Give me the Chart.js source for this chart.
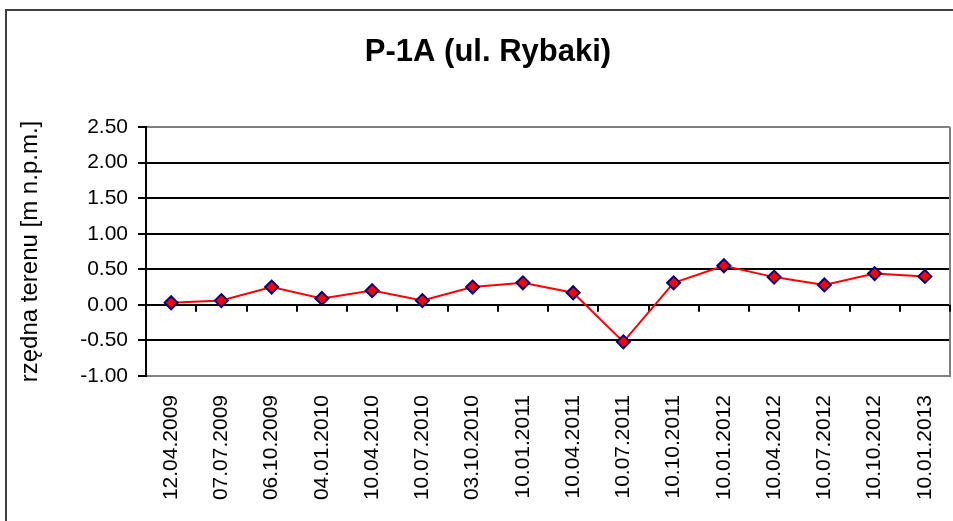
<!DOCTYPE html>
<html>
<head>
<meta charset="utf-8">
<script src="https://cdn.jsdelivr.net/npm/chart.js@4/dist/chart.umd.min.js"></script>
<style>
    html, body { margin: 0; padding: 0; background: #fff; }
    #wrap { width: 953px; height: 521px; }
</style>
</head>
<body>
<div id="wrap"><canvas id="chart" width="953" height="521"></canvas></div>
<script>
var chartTitle = 'P-1A (ul. Rybaki)';
var axisTitle = 'rzędna terenu [m n.p.m.]';

var dates = ['12.04.2009', '07.07.2009', '06.10.2009', '04.01.2010', '10.04.2010', '10.07.2010',
    '03.10.2010', '10.01.2011', '10.04.2011', '10.07.2011', '10.10.2011', '10.01.2012',
    '10.04.2012', '10.07.2012', '10.10.2012', '10.01.2013'];
var levels = [0.03, 0.06, 0.25, 0.09, 0.20, 0.06, 0.25, 0.31, 0.17, -0.52, 0.31, 0.55, 0.39, 0.28, 0.44, 0.40];

var yMin = -1.0;
var yMax = 2.5;
var yStep = 0.5;

var font = "'Liberation Sans', Arial, sans-serif";

// frame, title, right border and the small ticks on the zero line
var framePlugin = {
    id: 'frame',
    beforeDatasetsDraw: function (chart) {
        var ctx = chart.ctx;
        var area = chart.chartArea;
        var x = chart.scales.x;
        var y = chart.scales.y;
        var y0 = y.getPixelForValue(0);
        var step = x.width / dates.length;

        ctx.save();
        ctx.strokeStyle = '#808080';
        ctx.lineWidth = 2;
        ctx.beginPath();
        ctx.moveTo(area.right, area.top);
        ctx.lineTo(area.right, area.bottom);
        ctx.stroke();

        ctx.strokeStyle = '#000';
        ctx.lineWidth = 2;
        ctx.beginPath();
        for (var i = 1; i <= dates.length; i++) {
            var px = Math.round(x.left + i * step);
            ctx.moveTo(px, y0);
            ctx.lineTo(px, y0 + 7);
        }
        ctx.stroke();
        ctx.restore();
    },
    afterDraw: function (chart) {
        var ctx = chart.ctx;
        ctx.save();
        ctx.strokeStyle = '#404040';
        ctx.lineWidth = 2;
        ctx.beginPath();
        ctx.moveTo(6, chart.height);
        ctx.lineTo(6, 10);
        ctx.lineTo(chart.width, 10);
        ctx.stroke();

        ctx.fillStyle = '#000';
        ctx.font = 'bold 31px ' + font;
        ctx.textAlign = 'center';
        ctx.textBaseline = 'alphabetic';
        ctx.fillText(chartTitle, 488, 61);
        ctx.restore();
    }
};

new Chart(document.getElementById('chart'), {
    type: 'line',
    data: {
        labels: dates,
        datasets: [{
            data: levels,
            borderColor: '#ff0000',
            borderWidth: 2,
            tension: 0,
            pointStyle: 'rectRot',
            pointRadius: 6.5,
            pointBorderWidth: 2,
            pointBackgroundColor: '#ff0000',
            pointBorderColor: '#000080'
        }]
    },
    options: {
        responsive: false,
        animation: false,
        devicePixelRatio: 1,
        layout: {
            autoPadding: false,
            padding: { left: 0, top: 127, right: 3, bottom: 0 }
        },
        plugins: {
            legend: { display: false },
            title: { display: false },
            tooltip: { enabled: false }
        },
        scales: {
            x: {
                type: 'category',
                offset: true,
                grid: { display: false },
                border: { display: true, color: '#808080', width: 2 },
                ticks: {
                    autoSkip: false,
                    maxRotation: 90,
                    minRotation: 90,
                    padding: 11,
                    color: '#000',
                    font: { family: font, size: 21 }
                },
                afterFit: function (scale) {
                    scale.height = 145;
                    scale.paddingLeft = 0;
                    scale.paddingRight = 0;
                }
            },
            y: {
                min: yMin,
                max: yMax,
                grid: {
                    color: function (c) {
                        var v = c.tick ? c.tick.value : 0;
                        return (v === yMin || v === yMax) ? '#808080' : '#000';
                    },
                    lineWidth: 2,
                    tickColor: '#000',
                    tickLength: 8
                },
                border: { display: true, color: '#000', width: 2 },
                ticks: {
                    stepSize: yStep,
                    padding: 10,
                    color: '#000',
                    font: { family: font, size: 21 },
                    callback: function (value) {
                        return Number(value).toFixed(2);
                    }
                },
                title: {
                    display: true,
                    text: axisTitle,
                    color: '#000',
                    padding: { top: 16, bottom: 0 },
                    font: { family: font, size: 24 }
                },
                afterFit: function (scale) {
                    scale.width = 146;
                }
            }
        }
    },
    plugins: [framePlugin]
});
</script>
</body>
</html>
